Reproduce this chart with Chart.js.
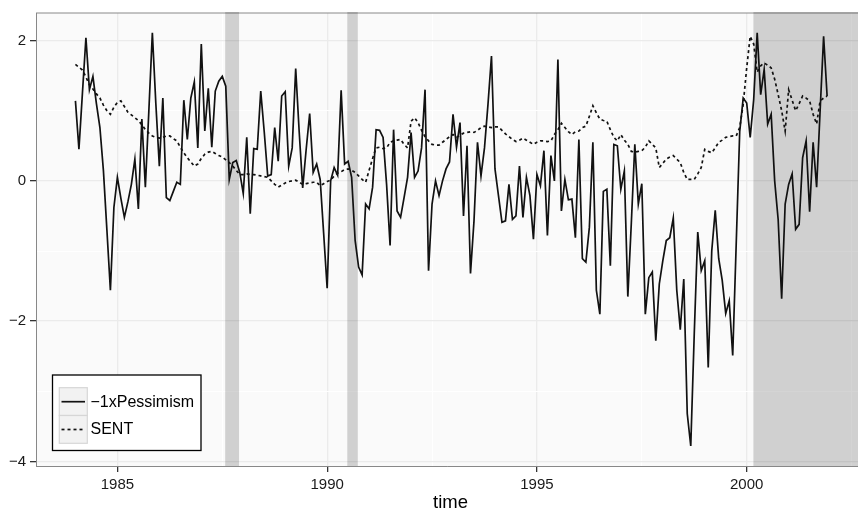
<!DOCTYPE html>
<html>
<head>
<meta charset="utf-8">
<script src="https://cdn.jsdelivr.net/npm/chart.js@4.4.1/dist/chart.umd.min.js"></script>
<style>
   html, body { margin: 0; padding: 0; background: #ffffff; overflow: hidden; }
   canvas { display: block; }
</style>
</head>
<body>
<canvas id="chart" width="858" height="509"></canvas>
<script>
// monthly values, Jan 1984 .. Dec 2001 (one row per year)
const START_YEAR = 1984

const PESSIMISM = [
   1.14, 0.45, 1.25, 2.04, 1.30, 1.49, 1.10, 0.76, 0.15, -0.70, -1.56, -0.38,
   0.05, -0.25, -0.52, -0.30, -0.05, 0.31, -0.40, 0.88, -0.09, 1.00, 2.11, 1.10,
   0.21, 1.18, -0.24, -0.28, -0.15, -0.02, -0.05, 1.15, 0.59, 1.18, 1.41, 0.47,
   1.95, 0.71, 1.32, 0.48, 1.28, 1.42, 1.49, 1.35, 0.02, 0.26, 0.29, 0.12,
   -0.18, 0.62, -0.47, 0.46, 0.45, 1.28, 0.70, 0.07, 0.09, 0.76, 0.28, 1.21,
   1.27, 0.21, 0.47, 1.60, 0.70, -0.10, 0.45, 0.96, 0.12, 0.24, 0.02, -0.75,
   -1.53, 0.00, 0.19, 0.08, 1.29, 0.24, 0.28, 0.05, -0.85, -1.23, -1.34, -0.33,
   -0.40, -0.09, 0.73, 0.72, 0.62, -0.05, -0.92, 0.73, -0.43, -0.52, -0.24, 0.05,
   0.69, 0.05, 0.14, 0.47, 1.30, -1.28, -0.33, 0.00, -0.21, 0.00, 0.17, 0.27,
   0.95, 0.48, 0.83, -0.50, 0.50, -1.32, -0.57, 0.55, 0.07, 0.47, 1.09, 1.78,
   0.17, -0.21, -0.59, -0.57, -0.05, -0.55, -0.50, 0.21, -0.52, 0.05, -0.21, -0.83,
   0.09, -0.07, 0.43, -0.78, 0.36, 0.00, 1.73, -0.43, 0.02, -0.27, -0.26, -0.81,
   0.59, -1.11, -1.16, -0.66, 0.55, -1.56, -1.90, -0.15, -0.12, -1.21, 0.52, 0.50,
   -0.12, 0.14, -1.65, -0.60, 0.52, -0.33, -0.04, -1.90, -1.38, -1.30, -2.28, -1.47,
   -1.14, -0.85, -0.81, -0.53, -1.56, -2.12, -1.40, -3.32, -3.78, -2.18, -0.73, -1.28,
   -1.14, -2.66, -1.00, -0.42, -1.11, -1.42, -1.89, -1.71, -2.49, -0.90, 0.70, 1.18,
   1.11, 0.62, 1.16, 2.11, 1.23, 1.59, 0.81, 0.95, 0.00, -0.55, -1.68, -0.33,
   -0.05, 0.10, -0.69, -0.62, 0.33, 0.57, -0.44, 0.55, -0.09, 1.00, 2.06, 1.21,
]

const SENT = [
   1.66, 1.62, 1.58, 1.48, 1.37, 1.31, 1.24, 1.18, 1.08, 1.00, 0.95, 1.05,
   1.12, 1.14, 1.06, 0.98, 0.94, 0.90, 0.86, 0.80, 0.73, 0.68, 0.64, 0.62,
   0.61, 0.62, 0.64, 0.64, 0.60, 0.57, 0.48, 0.40, 0.33, 0.27, 0.21, 0.24,
   0.32, 0.38, 0.41, 0.42, 0.39, 0.36, 0.34, 0.30, 0.26, 0.21, 0.15, 0.09,
   0.09, 0.10, 0.09, 0.09, 0.08, 0.07, 0.06, 0.05, 0.00, -0.05, -0.09, -0.06,
   -0.03, -0.01, 0.00, 0.01, -0.02, -0.05, -0.04, -0.03, -0.02, -0.02, -0.07, -0.04,
   -0.01, 0.01, 0.07, 0.11, 0.13, 0.16, 0.17, 0.15, 0.12, 0.07, 0.02, -0.02,
   0.15, 0.32, 0.47, 0.48, 0.46, 0.47, 0.55, 0.57, 0.58, 0.59, 0.52, 0.47,
   0.85, 0.90, 0.83, 0.72, 0.63, 0.57, 0.52, 0.51, 0.51, 0.55, 0.59, 0.63,
   0.66, 0.62, 0.65, 0.68, 0.69, 0.70, 0.69, 0.72, 0.76, 0.78, 0.77, 0.76,
   0.77, 0.77, 0.72, 0.67, 0.63, 0.59, 0.56, 0.58, 0.61, 0.58, 0.55, 0.52,
   0.55, 0.57, 0.57, 0.56, 0.57, 0.66, 0.73, 0.82, 0.76, 0.70, 0.66, 0.70,
   0.71, 0.76, 0.78, 0.92, 1.07, 0.97, 0.88, 0.86, 0.85, 0.73, 0.62, 0.57,
   0.66, 0.58, 0.52, 0.42, 0.41, 0.42, 0.43, 0.48, 0.57, 0.52, 0.47, 0.19,
   0.25, 0.31, 0.34, 0.36, 0.31, 0.26, 0.12, 0.02, 0.02, 0.02, 0.10, 0.19,
   0.45, 0.42, 0.40, 0.47, 0.55, 0.58, 0.62, 0.63, 0.64, 0.64, 0.76, 1.09,
   1.61, 2.06, 1.95, 1.55, 1.64, 1.68, 1.65, 1.61, 1.45, 1.23, 1.00, 0.71,
   1.30, 1.15, 1.00, 1.10, 1.21, 1.18, 1.14, 0.95, 0.81, 1.14, 1.18, 1.21,
]

const SERIES_LABELS = [ '\u22121xPessimism', 'SENT' ]

const X_MAJOR = [ 1985, 1990, 1995, 2000 ]
const X_MINOR = [ 1987.5, 1992.5, 1997.5, 2002.5 ]
const Y_MAJOR = [ -4, -2, 0, 2 ]
const Y_MINOR = [ -3, -1, 1 ]

// shaded periods, in years
const SHADED = [ [ 1987.57, 1987.90 ], [ 1990.48, 1990.73 ], [ 2000.16, 2003 ] ]

const FONT = "'Liberation Sans', Arial, Helvetica, sans-serif"
const INK = '#111111'

const toPoints = ( values ) => values.map( ( y, i ) => ( { x: START_YEAR + i / 12, y } ) )
const minus = ( v ) => ( v < 0 ? '\u2212' + Math.abs( v ) : String( v ) )

const tickList = ( values ) => values.slice().sort( ( a, b ) => a - b ).map( ( value ) => ( { value } ) )

function gridFor( major ) {
   const isMajor = ( ctx ) => ctx.tick && major.includes( ctx.tick.value )
   return {
      color: ( ctx ) => ( isMajor( ctx ) ? '#ebebeb' : '#ffffff' ),
      lineWidth: ( ctx ) => ( isMajor( ctx ) ? 1.3 : 1 ),
      tickColor: ( ctx ) => ( isMajor( ctx ) ? '#333333' : 'rgba(0,0,0,0)' ),
      tickLength: 6,
      tickWidth: 1.3,
   }
}

function plugin() {
   const drawLegend = ( chart ) => {
      const { ctx } = chart
      ctx.save()

      ctx.fillStyle = '#ffffff'
      ctx.fillRect( 52.5, 375, 148.5, 75.5 )
      ctx.strokeStyle = '#000000'
      ctx.lineWidth = 1.3
      ctx.strokeRect( 52.5, 375, 148.5, 75.5 )

      ctx.font = `16px ${FONT}`
      ctx.textBaseline = 'middle'
      ctx.textAlign = 'left'

      chart.data.datasets.forEach( ( ds, i ) => {
         const y0 = 387.7 + i * 27.8
         const yc = y0 + 14

         ctx.fillStyle = '#f2f2f2'
         ctx.fillRect( 59.3, y0, 28, 27.8 )
         ctx.strokeStyle = '#d6d6d6'
         ctx.lineWidth = 1.2
         ctx.setLineDash( [] )
         ctx.strokeRect( 59.3, y0, 28, 27.8 )

         ctx.strokeStyle = ds.borderColor
         ctx.lineWidth = 1.7
         ctx.setLineDash( ds.borderDash || [] )
         ctx.beginPath()
         ctx.moveTo( 61.5, yc )
         ctx.lineTo( 85, yc )
         ctx.stroke()

         ctx.setLineDash( [] )
         ctx.fillStyle = '#000000'
         ctx.fillText( ds.label, 90.5, yc + 0.5 )
      } )

      ctx.restore()
   }

   return {
      id: 'panel_extras',
      beforeDraw( chart ) {
         const { ctx, chartArea: a } = chart
         ctx.save()
         ctx.fillStyle = '#fafafa'
         ctx.fillRect( a.left, a.top, a.right - a.left, a.bottom - a.top )
         ctx.restore()
      },
      beforeDatasetsDraw( chart ) {
         const { ctx, chartArea: a, scales } = chart
         ctx.save()

         // top edge of the panel
         ctx.strokeStyle = '#888888'
         ctx.lineWidth = 1
         ctx.beginPath()
         ctx.moveTo( a.left, a.top )
         ctx.lineTo( a.right, a.top )
         ctx.stroke()

         ctx.beginPath()
         ctx.rect( a.left, a.top - 1, a.right - a.left, a.bottom - a.top + 1 )
         ctx.clip()
         ctx.fillStyle = 'rgba(0,0,0,0.17)'
         SHADED.forEach( ( [ from, to ] ) => {
            const x0 = scales.x.getPixelForValue( from )
            const x1 = scales.x.getPixelForValue( to )
            ctx.fillRect( x0, a.top - 1, x1 - x0, a.bottom - a.top + 1 )
         } )
         ctx.restore()
      },
      afterDraw( chart ) {
         drawLegend( chart )

         const { ctx } = chart
         ctx.save()
         ctx.font = `18.5px ${FONT}`
         ctx.fillStyle = '#000000'
         ctx.textAlign = 'center'
         ctx.textBaseline = 'alphabetic'
         ctx.fillText( 'time', 450.5, 507.5 )
         ctx.restore()
      },
   }
}

const config = {
   type: 'line',
   plugins: [ plugin() ],
   data: {
      datasets: [
         {
            label: SERIES_LABELS[ 0 ],
            data: toPoints( PESSIMISM ),
            borderColor: INK,
            borderWidth: 1.7,
            pointRadius: 0,
            tension: 0,
            fill: false,
         },
         {
            label: SERIES_LABELS[ 1 ],
            data: toPoints( SENT ),
            borderColor: INK,
            borderWidth: 1.7,
            borderDash: [ 3, 3 ],
            pointRadius: 0,
            tension: 0,
            fill: false,
         },
      ],
   },
   options: {
      responsive: false,
      animation: false,
      devicePixelRatio: 1,
      layout: {
         padding: { top: 11.5, right: 0, bottom: 0, left: 0 },
      },
      plugins: {
         legend: { display: false },
         tooltip: { enabled: false },
      },
      scales: {
         x: {
            type: 'linear',
            min: 1983.06,
            max: 2002.653,
            afterBuildTicks: ( scale ) => { scale.ticks = tickList( [ ...X_MAJOR, ...X_MINOR ] ) },
            afterFit: ( scale ) => { scale.height = 43 },
            grid: gridFor( X_MAJOR ),
            border: { display: true, color: '#888888', width: 1 },
            ticks: {
               autoSkip: false,
               maxRotation: 0,
               padding: 4,
               color: '#1a1a1a',
               font: { family: FONT, size: 15 },
               callback: ( v ) => ( X_MAJOR.includes( v ) ? String( v ) : '' ),
            },
            title: { display: false },
         },
         y: {
            type: 'linear',
            min: -4.065,
            max: 2.393,
            afterBuildTicks: ( scale ) => { scale.ticks = tickList( [ ...Y_MAJOR, ...Y_MINOR ] ) },
            afterFit: ( scale ) => { scale.width = 36 },
            grid: gridFor( Y_MAJOR ),
            border: { display: true, color: '#888888', width: 1 },
            ticks: {
               autoSkip: false,
               padding: 4,
               color: '#1a1a1a',
               font: { family: FONT, size: 15 },
               callback: ( v ) => ( Y_MAJOR.includes( v ) ? minus( v ) : '' ),
            },
         },
      },
   },
}

new Chart( document.getElementById( 'chart' ).getContext( '2d' ), config )
</script>
</body>
</html>
